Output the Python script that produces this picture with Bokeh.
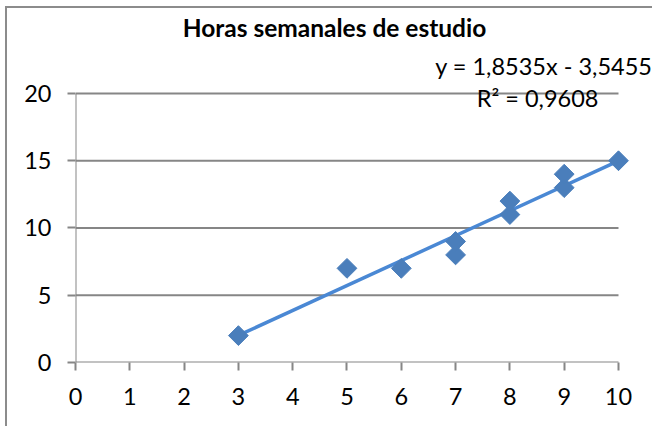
import numpy as np
from bokeh.plotting import figure
from bokeh.models import Label, FixedTicker, ColumnDataSource
from bokeh.embed import file_html
from bokeh.resources import INLINE

# Data
horas_x = [3, 5, 6, 7, 7, 8, 8, 9, 9, 10]
horas_y = [2, 7, 7, 8, 9, 11, 12, 13, 14, 15]
x_ticks = [0, 1, 2, 3, 4, 5, 6, 7, 8, 9, 10]
y_ticks = [0, 5, 10, 15, 20]
title_text = "Horas semanales de estudio"

FONT = "Lato"
GRAY = "#868686"
MARKER = "#4a7ebb"
TREND = "#4a88d4"

# Linear regression (trend line)
xs = np.array(horas_x, dtype=float)
ys = np.array(horas_y, dtype=float)
slope, intercept = np.polyfit(xs, ys, 1)
pred = slope * xs + intercept
r2 = 1 - np.sum((ys - pred) ** 2) / np.sum((ys - ys.mean()) ** 2)
fmt = lambda v: f"{v:.4f}".replace(".", ",")
eq_text = f"y = {fmt(slope)}x - {fmt(abs(intercept))}"
r2_text = f"R² = {fmt(r2)}"

xmin, xmax = x_ticks[0], x_ticks[-1]
ymin, ymax = y_ticks[0], y_ticks[-1]

p = figure(width=647, height=420, x_range=(xmin, 10.663), y_range=(ymin, 26.17),
           output_backend="svg", toolbar_location=None,
           min_border_left=68, min_border_right=0, min_border_top=2, min_border_bottom=66)
p.outline_line_color = None
p.background_fill_color = "white"
p.border_fill_color = "white"
p.styles = {"border-left": "2px solid #8c8c8c", "border-top": "2px solid #8c8c8c",
            "margin-left": "5px", "margin-top": "6px"}

p.xaxis.ticker = FixedTicker(ticks=x_ticks)
p.yaxis.ticker = FixedTicker(ticks=y_ticks)
for ax in (p.xaxis[0], p.yaxis[0]):
    ax.axis_line_color = None
    ax.major_tick_line_color = GRAY
    ax.major_tick_line_width = 2
    ax.major_tick_out = 8
    ax.major_tick_in = 0
    ax.minor_tick_line_color = None
    ax.major_label_text_font = FONT
    ax.major_label_text_font_size = "23.5px"
    ax.major_label_text_color = "black"
p.yaxis.major_label_standoff = 16
p.xaxis.major_label_standoff = 17
p.xgrid.grid_line_color = None
p.ygrid.grid_line_color = None

# Gridlines and axis lines limited to the data area
grid_levels = y_ticks[1:]
p.segment(x0=[xmin] * len(grid_levels), y0=grid_levels, x1=[xmax] * len(grid_levels), y1=grid_levels,
          line_color=GRAY, line_width=2)
p.segment(x0=[xmin, xmin], y0=[ymin, ymin], x1=[xmax, xmin], y1=[ymin, ymax],
          line_color=GRAY, line_width=2)

# Trend line across data range
tx = np.array([xs.min(), xs.max()])
p.line(tx, slope * tx + intercept, line_color=TREND, line_width=3.5)

src = ColumnDataSource(dict(x=horas_x, y=horas_y))
p.scatter("x", "y", source=src, marker="square", angle=np.pi / 4, size=14,
          fill_color=MARKER, line_color=MARKER)

p.add_layout(Label(x=4.77, y=24.9, text=title_text, text_font=FONT, text_font_style="bold",
                   text_font_size="24.5px", text_align="center", text_baseline="alphabetic",
                   text_color="black"))
p.add_layout(Label(x=10.626, y=22.08, text=eq_text, text_font=FONT,
                   text_font_size="23.5px", text_align="right", text_baseline="alphabetic",
                   text_color="black"))
p.add_layout(Label(x=8.51, y=19.7, text=r2_text, text_font=FONT,
                   text_font_size="23.5px", text_align="center", text_baseline="alphabetic",
                   text_color="black"))

open("out.html", "w").write(file_html(p, INLINE))
